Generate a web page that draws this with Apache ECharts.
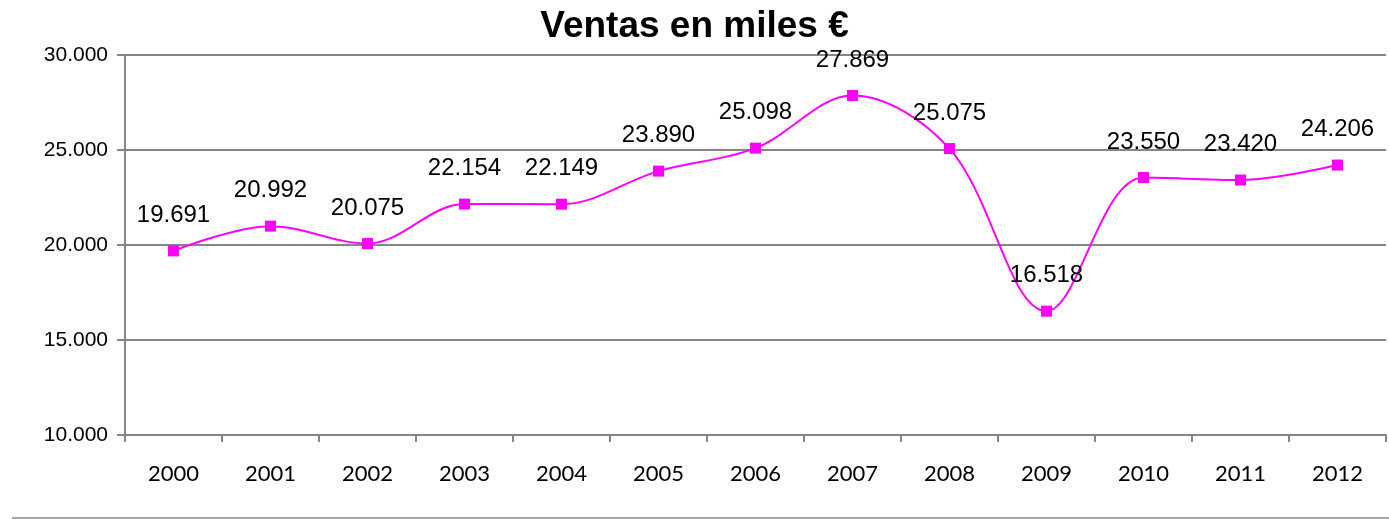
<!DOCTYPE html>
<html>
<head>
<meta charset="utf-8">
<script src="https://cdn.jsdelivr.net/npm/echarts@6/dist/echarts.min.js"></script>
<style>
html,body{margin:0;padding:0;background:#fff;}
#chart{width:1389px;height:519px;}
</style>
</head>
<body>
<div id="chart"></div>
<script>
const titleText = 'Ventas en miles €';
const years = ['2000','2001','2002','2003','2004','2005','2006','2007','2008','2009','2010','2011','2012'];
const ventas = [19691, 20992, 20075, 22154, 22149, 23890, 25098, 27869, 25075, 16518, 23550, 23420, 24206];

function fmt(v){
  return Math.round(v).toString().replace(/\B(?=(\d{3})+(?!\d))/g, '.');
}

const chart = echarts.init(document.getElementById('chart'));
chart.setOption({
  animation: false,
  backgroundColor: '#ffffff',
  title: {
    text: titleText,
    left: 'center',
    top: 3,
    textStyle: {fontFamily: 'Liberation Sans, Arial, sans-serif', fontSize: 37, fontWeight: 'bold', color: '#000'}
  },
  grid: {left: 125, right: 3, top: 55, bottom: 84, containLabel: false},
  xAxis: {
    type: 'category',
    data: years,
    boundaryGap: true,
    axisLine: {lineStyle: {color: '#868686', width: 2}},
    axisTick: {show: true, length: 7, lineStyle: {color: '#868686', width: 2}},
    axisLabel: {fontFamily: 'Lato, sans-serif', fontSize: 22, color: '#000', margin: 28}
  },
  yAxis: {
    type: 'value',
    min: 10000, max: 30000, interval: 5000,
    axisLine: {show: true, lineStyle: {color: '#868686', width: 2}},
    axisTick: {show: true, length: 8, lineStyle: {color: '#868686', width: 2}},
    splitLine: {lineStyle: {color: '#868686', width: 2}},
    axisLabel: {fontFamily: 'Liberation Sans, Arial, sans-serif', fontSize: 21, color: '#000', margin: 17, formatter: fmt}
  },
  series: [{
    type: 'line',
    data: ventas,
    smooth: 0.35,
    symbol: 'rect',
    symbolSize: 11,
    lineStyle: {color: '#ff00ff', width: 2},
    itemStyle: {color: '#ff00ff'},
    label: {
      show: true, position: 'top', distance: 18,
      fontFamily: 'Liberation Sans, Arial, sans-serif', fontSize: 24, color: '#000',
      formatter: p => fmt(p.value)
    }
  }],
  graphic: [{
    type: 'line',
    shape: {x1: 12, y1: 518, x2: 1389, y2: 518},
    style: {stroke: '#a6a6a6', lineWidth: 2}
  }]
});
</script>
</body>
</html>
